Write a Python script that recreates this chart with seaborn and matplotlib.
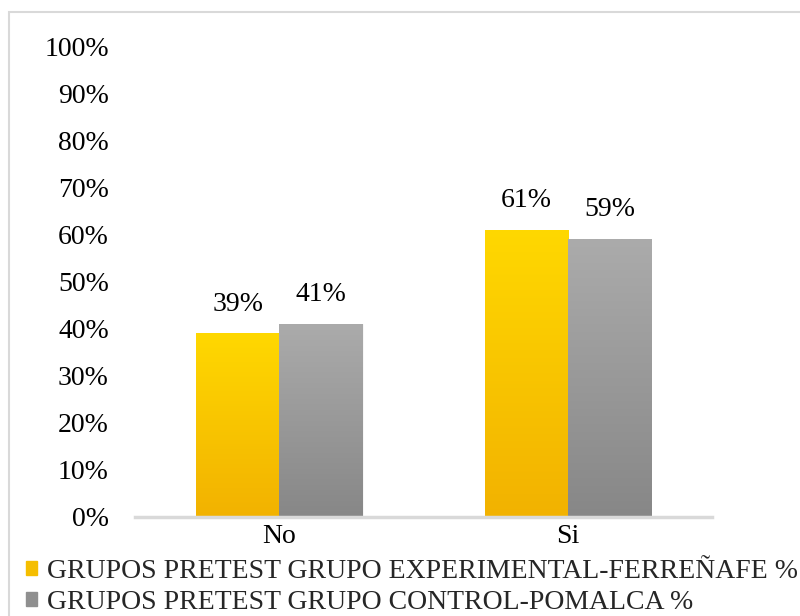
import matplotlib
matplotlib.use("Agg")
import matplotlib.pyplot as plt
import seaborn as sns
import pandas as pd
import numpy as np
from matplotlib.patches import Rectangle
from matplotlib.colors import LinearSegmentedColormap

categories = ["No", "Si"]
series_names = ["GRUPOS PRETEST GRUPO EXPERIMENTAL-FERREÑAFE %",
                "GRUPOS PRETEST GRUPO CONTROL-POMALCA %"]
experimental = [39, 61]
control = [41, 59]
y_ticks = [0, 10, 20, 30, 40, 50, 60, 70, 80, 90, 100]

df = pd.DataFrame({
    "cat": categories * 2,
    "grp": [series_names[0]] * 2 + [series_names[1]] * 2,
    "val": experimental + control,
})

colors = ["#FAC400", "#999999"]
grads = [("#F2B200", "#FFD800"), ("#878787", "#ABABAB")]

sns.set_theme(style="white")
plt.rcParams["font.family"] = ["Liberation Serif", "DejaVu Serif"]

fig = plt.figure(figsize=(8, 6.16), dpi=100)
ax = fig.add_axes([0.169, 0.161, 0.721, 0.764])

sns.barplot(data=df, x="cat", y="val", hue="grp", order=categories,
            hue_order=series_names, palette=colors,
            width=0.577, gap=0, ax=ax, legend=False, saturation=1)

# gradient shading clipped to each bar
for cont, (c0, c1) in zip(ax.containers, grads):
    cmap = LinearSegmentedColormap.from_list("g", [c0, c1])
    for p in cont.patches:
        x0 = p.get_x(); w = p.get_width(); h = p.get_height()
        im = ax.imshow(np.linspace(0, 1, 256).reshape(-1, 1), cmap=cmap,
                       extent=(x0, x0 + w, 0, h), origin="lower",
                       aspect="auto", zorder=p.get_zorder() + 0.1)
        im.set_clip_path(p)
    for p in cont.patches:
        p.set_edgecolor("white")
        p.set_linewidth(0.6)

for cont in ax.containers:
    ax.bar_label(cont, labels=[f"{v:.0f}%" for v in cont.datavalues],
                 padding=12, fontsize=20, color="#000000")

ax.set_xlim(-0.5, 1.5)
ax.set_ylim(0, 100)
ax.set_yticks(y_ticks)
ax.set_yticklabels([f"{t}%" for t in y_ticks], fontsize=20, color="#000000")
ax.tick_params(axis="x", labelsize=20, colors="#000000", length=0, pad=5)
ax.tick_params(axis="y", length=0, pad=19)
ax.set_xlabel("")
ax.set_ylabel("")
for s in ["top", "right", "left"]:
    ax.spines[s].set_visible(False)
ax.spines["bottom"].set_color("#D9D9D9")
ax.spines["bottom"].set_linewidth(2.5)

handles = [Rectangle((0, 0), 1, 1, color="#F5BE00"),
           Rectangle((0, 0), 1, 1, color="#8F8F8F")]
fig.legend(handles, series_names, loc="lower left",
           bbox_to_anchor=(0.019, -0.016), frameon=False, fontsize=20,
           handlelength=0.38, handleheight=0.38, handletextpad=0.36,
           labelspacing=0.22, borderaxespad=0)

fig.patches.append(Rectangle((0.011, -0.1), 1.2, 1.08,
                             transform=fig.transFigure, fill=False,
                             edgecolor="#D9D9D9", linewidth=1.5))

fig.savefig("out.png", dpi=100)
